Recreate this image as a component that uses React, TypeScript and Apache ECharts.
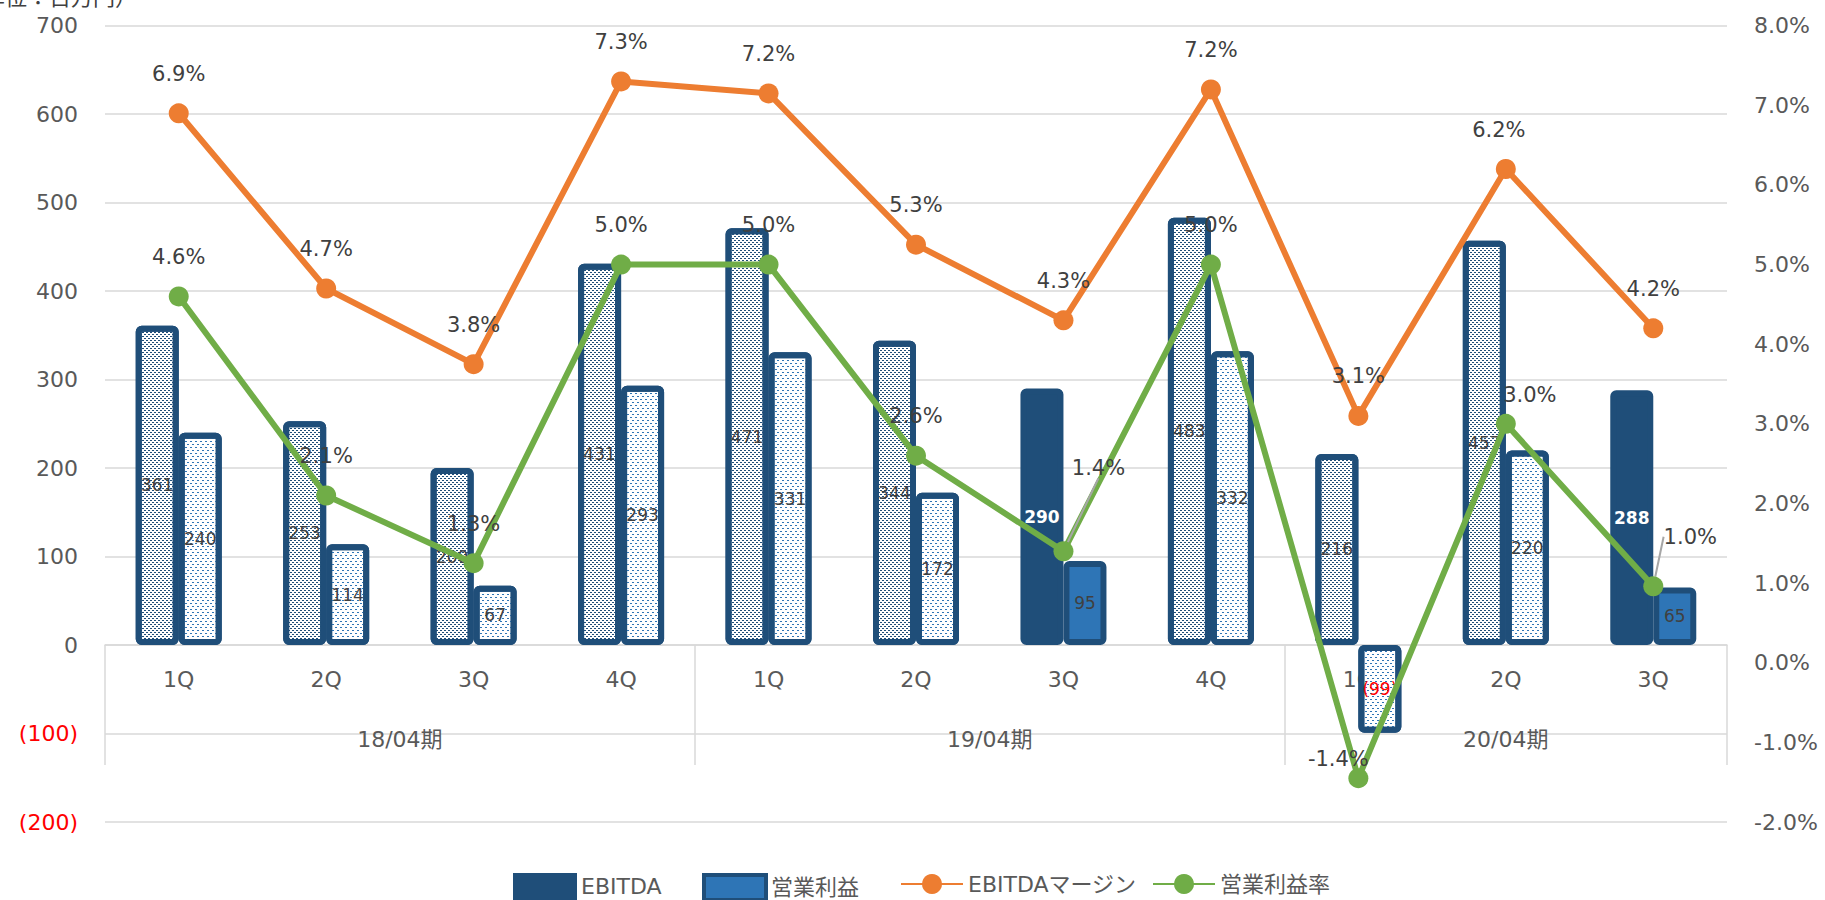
import React, { useEffect, useRef } from 'react';
import * as echarts from 'echarts';

// ---- data ----
const QUARTERS = ['1Q', '2Q', '3Q', '4Q', '1Q', '2Q', '3Q', '4Q', '1Q', '2Q', '3Q'];
const PERIODS = ['18/04期', '19/04期', '20/04期'];
const PERIOD_SIZES = [4, 4, 3];
const EBITDA = [361, 253, 200, 431, 471, 344, 290, 483, 216, 457, 288];
const OP_PROFIT = [240, 114, 67, 293, 331, 172, 95, 332, -99, 220, 65];
const EBITDA_MARGIN = [6.9, 4.7, 3.75, 7.3, 7.15, 5.25, 4.3, 7.2, 3.1, 6.2, 4.2];
const OP_MARGIN = [4.6, 2.1, 1.25, 5.0, 5.0, 2.6, 1.4, 5.0, -1.45, 3.0, 0.96];
const LEFT_MIN = -200;
const LEFT_MAX = 700;
const LEFT_STEP = 100;
const RIGHT_MIN = -2;
const RIGHT_MAX = 8;
const RIGHT_STEP = 1;
const UNIT_LABEL = '（単位：百万円）';
const SERIES_NAMES = ['EBITDA', '営業利益', 'EBITDAマージン', '営業利益率'];

// ---- styling / layout ----
const W = 1825;
const H = 900;
const GRID_LEFT = 105;
const GRID_RIGHT = 98;
const GRID_TOP = 25.7;
const GRID_BOTTOM = 78;
const LEGEND_LEFTS = [513, 702, 900, 1152];
const SOLID_INDEXES = [6, 10];
const OP_MARGIN_SHIFT: Record<number, [number, number]> = { 6: [35, -44], 8: [-20, 20], 9: [24, 11], 10: [37, -10] };
const OP_MARGIN_GUIDE = [6, 10];
const EBITDA_MARGIN_SHIFT: Record<number, [number, number]> = { 9: [-7, 0] };

const FONT = "'DejaVu Sans', 'Noto Sans CJK JP', sans-serif";
const DARK = '#1F4E79';
const BLUE = '#2E75B6';
const ORANGE = '#ED7D31';
const GREEN = '#70AD47';
const GRID = '#D9D9D9';
const AXIS_TEXT = '#595959';
const LABEL_TEXT = '#404040';

const ebitdaDecal = () => ({
  symbol: 'rect',
  symbolSize: 1,
  color: DARK,
  dashArrayX: [[1.5, 1.5], [0, 1.5, 1.5, 0]],
  dashArrayY: [1, 1],
});
const opDecal = () => ({
  symbol: 'rect',
  symbolSize: 1,
  color: BLUE,
  dashArrayX: [[1.5, 2.5], [0, 2, 1.5, 0.5]],
  dashArrayY: [1, 1.2],
});

function buildOption() {
  // half-step axis for the fiscal period level
  const total = QUARTERS.length * 2 + 1;
  const halfSteps: string[] = new Array(total).fill('');
  const boundaries: number[] = [];
  let start = 0;
  PERIODS.forEach((p, i) => {
    boundaries.push(start * 2);
    halfSteps[start * 2 + PERIOD_SIZES[i]] = p;
    start += PERIOD_SIZES[i];
  });
  boundaries.push(start * 2);

  // distance from grid bottom up to the zero line of the left axis
  const plotH = H - GRID_TOP - GRID_BOTTOM;
  const zeroOffset = -plotH * ((0 - LEFT_MIN) / (LEFT_MAX - LEFT_MIN));

  const ebitdaData = EBITDA.map((v, i) =>
    SOLID_INDEXES.includes(i)
      ? { value: v, label: { color: '#FFFFFF', fontWeight: 'bold' } }
      : { value: v, itemStyle: { color: '#FFFFFF', decal: ebitdaDecal() } }
  );
  const opData = OP_PROFIT.map((v, i) => {
    const item: any = { value: v };
    if (!SOLID_INDEXES.includes(i)) item.itemStyle = { color: '#FFFFFF', decal: opDecal() };
    if (v < 0) item.label = { color: '#FF0000' };
    return item;
  });
  const opMarginData = OP_MARGIN.map((v, i) =>
    OP_MARGIN_GUIDE.includes(i)
      ? { value: v, labelLine: { show: true, lineStyle: { color: '#A6A6A6', width: 2 } } }
      : { value: v }
  );

  const pctLabel = {
    show: true,
    position: 'top',
    distance: 19,
    fontSize: 21,
    fontFamily: FONT,
    color: LABEL_TEXT,
    formatter: (p: any) => `${Number(p.value).toFixed(1)}%`,
  };

  const legendItems: any[] = [
    { name: SERIES_NAMES[0], icon: 'rect' },
    { name: SERIES_NAMES[1], icon: 'rect', itemStyle: { borderWidth: 4 } },
    { name: SERIES_NAMES[2] },
    { name: SERIES_NAMES[3] },
  ];
  const legends = legendItems.map((item, i) => ({
    data: [item],
    left: LEGEND_LEFTS[i],
    top: 873,
    padding: 0,
    itemWidth: 62,
    itemHeight: 25,
    textStyle: { fontSize: 22, color: AXIS_TEXT, fontFamily: FONT },
  }));

  return {
    animation: false,
    textStyle: { fontFamily: FONT },
    grid: {
      left: GRID_LEFT,
      right: GRID_RIGHT,
      top: GRID_TOP,
      bottom: GRID_BOTTOM,
      containLabel: false,
      outerBoundsMode: 'none',
    },
    graphic: [
      {
        type: 'text',
        right: W - 137,
        top: -14,
        style: { text: UNIT_LABEL, fontSize: 22, fontFamily: FONT, fill: LABEL_TEXT },
      },
    ],
    legend: legends,
    xAxis: [
      {
        type: 'category',
        data: QUARTERS,
        position: 'bottom',
        offset: zeroOffset,
        axisLine: { onZero: false, lineStyle: { color: GRID, width: 1.5 } },
        axisTick: { show: false },
        axisLabel: { margin: 23, fontSize: 22, color: AXIS_TEXT, fontFamily: FONT },
      },
      {
        type: 'category',
        data: halfSteps,
        boundaryGap: false,
        position: 'bottom',
        offset: zeroOffset,
        axisLine: { show: false, onZero: false },
        axisTick: {
          show: true,
          interval: (index: number) => boundaries.includes(index),
          length: 120,
          inside: false,
          lineStyle: { color: GRID, width: 1.5 },
        },
        axisLabel: { interval: 0, margin: 83, fontSize: 22, color: AXIS_TEXT, fontFamily: FONT },
      },
    ],
    yAxis: [
      {
        type: 'value',
        min: LEFT_MIN,
        max: LEFT_MAX,
        interval: LEFT_STEP,
        axisLine: { show: false },
        axisTick: { show: false },
        splitLine: { lineStyle: { color: GRID, width: 1.5 } },
        axisLabel: {
          margin: 27,
          fontSize: 22,
          fontFamily: FONT,
          color: (v: any) => (Number(v) < 0 ? '#FF0000' : AXIS_TEXT),
          formatter: (v: number) => (v < 0 ? `(${-v})` : `${v}`),
        },
      },
      {
        type: 'value',
        position: 'right',
        min: RIGHT_MIN,
        max: RIGHT_MAX,
        interval: RIGHT_STEP,
        axisLine: { show: false },
        axisTick: { show: false },
        splitLine: { show: false },
        axisLabel: {
          margin: 27,
          fontSize: 22,
          fontFamily: FONT,
          color: AXIS_TEXT,
          formatter: (v: number) => `${v.toFixed(1)}%`,
        },
      },
    ],
    series: [
      {
        name: SERIES_NAMES[0],
        type: 'bar',
        xAxisIndex: 0,
        yAxisIndex: 0,
        barWidth: 43,
        barGap: '0%',
        itemStyle: { color: DARK, borderColor: DARK, borderWidth: 6, borderRadius: 3 },
        label: { show: true, position: 'inside', fontSize: 17, color: LABEL_TEXT, fontFamily: FONT },
        data: ebitdaData,
        z: 2,
      },
      {
        name: SERIES_NAMES[1],
        type: 'bar',
        xAxisIndex: 0,
        yAxisIndex: 0,
        barWidth: 43,
        barGap: '0%',
        itemStyle: { color: BLUE, borderColor: DARK, borderWidth: 6, borderRadius: 3 },
        label: {
          show: true,
          position: 'inside',
          fontSize: 17,
          color: LABEL_TEXT,
          fontFamily: FONT,
          formatter: (p: any) => (p.value < 0 ? `(${-p.value})` : `${p.value}`),
        },
        data: opData,
        z: 2,
      },
      {
        name: SERIES_NAMES[2],
        type: 'line',
        xAxisIndex: 0,
        yAxisIndex: 1,
        symbol: 'circle',
        symbolSize: 20,
        lineStyle: { color: ORANGE, width: 6 },
        itemStyle: { color: ORANGE },
        label: pctLabel,
        labelLayout: (p: any) => {
          const s = EBITDA_MARGIN_SHIFT[p.dataIndex];
          return s ? { dx: s[0], dy: s[1] } : {};
        },
        data: EBITDA_MARGIN,
        z: 5,
      },
      {
        name: SERIES_NAMES[3],
        type: 'line',
        xAxisIndex: 0,
        yAxisIndex: 1,
        symbol: 'circle',
        symbolSize: 20,
        lineStyle: { color: GREEN, width: 6 },
        itemStyle: { color: GREEN },
        label: pctLabel,
        labelLayout: (p: any) => {
          const s = OP_MARGIN_SHIFT[p.dataIndex];
          return s ? { dx: s[0], dy: s[1] } : {};
        },
        data: opMarginData,
        z: 6,
      },
    ],
  };
}

export default function App() {
  const ref = useRef<HTMLDivElement>(null);
  useEffect(() => {
    const chart = echarts.init(ref.current!, null, { renderer: 'svg' });
    chart.setOption(buildOption() as any);
    return () => chart.dispose();
  }, []);
  return (
    <div
      ref={ref}
      style={{ position: 'absolute', left: 0, top: 0, width: W, height: H, background: '#FFFFFF' }}
    />
  );
}
